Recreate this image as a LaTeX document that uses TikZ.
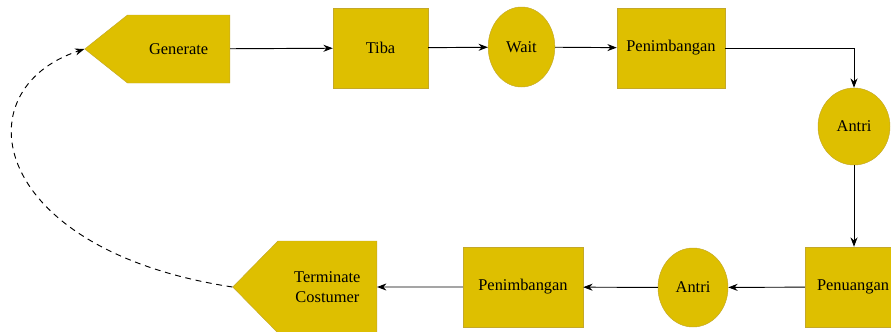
\documentclass[tikz,border=0pt]{standalone}
\usepackage{fontspec}
\setmainfont{Liberation Serif}
\usetikzlibrary{arrows.meta}
\usetikzlibrary{positioning}
\usetikzlibrary{shapes.geometric}
\usetikzlibrary{shapes.symbols}
\definecolor{myellow}{RGB}{222, 191, 0}
\definecolor{mborder}{RGB}{196, 168, 40}
\tikzset{proc/.style = {draw = mborder, fill = myellow, rectangle, minimum height = 2.4cm, font = \fontsize{14}{17}\selectfont}}
\tikzset{queue/.style = {draw = mborder, fill = myellow, ellipse, inner sep = 0, font = \fontsize{14}{17}\selectfont}}
\tikzset{gen/.style = {draw = mborder, fill = myellow, signal, signal to = west, signal from = nowhere, align = center, font = \fontsize{14}{17}\selectfont}}
\tikzset{flow/.style = {-{Stealth[length = 8pt, width = 6pt]}, line width = 0.8pt}}

\begin{document}
\begin{tikzpicture}[x = 0.03cm, y = -0.03cm]
    \useasboundingbox (0, 0) rectangle (891, 331);

    \node [gen, signal pointer angle = 77, minimum width = 4.35cm, minimum height = 2.04cm, anchor = east] (generate) at (230, 49) {Generate};
    \node [proc, minimum width = 2.85cm] (tiba) at (380.5, 48) {Tiba};
    \node [queue, minimum width = 2.0cm, minimum height = 2.4cm] (wait) at (521.5, 47) {Wait};
    \node [proc, minimum width = 3.24cm] (pen1) at (671, 48) {Penimbangan};
    \node [queue, minimum width = 2.16cm, minimum height = 2.31cm] (antri1) at (854, 126.5) {Antri};

    \node [proc, minimum width = 2.88cm] (penuangan) at (853, 287) {Penuangan};
    \node [queue, minimum width = 2.1cm, minimum height = 2.37cm] (antri2) at (693, 287.5) {Antri};
    \node [proc, minimum width = 3.6cm] (pen2) at (523, 287) {Penimbangan};
    \node [gen, signal pointer angle = 91, minimum width = 4.32cm, minimum height = 2.76cm, anchor = east] (term) at (377, 287) {Terminate\\Costumer};

    \draw [flow] (generate) -- (tiba);
    \draw [flow] (tiba) -- (wait);
    \draw [flow] (wait) -- (pen1);
    \draw [flow] (pen1.east) -| (antri1.north);
    \draw [flow] (antri1.south) -- (antri1.south |- penuangan.north);
    \draw [flow] (penuangan) -- (antri2);
    \draw [flow] (antri2) -- (pen2);
    \draw [flow] (pen2) -- (term);
    \draw [flow, dashed, dash pattern = on 5pt off 4pt] (term.west) .. controls (-10, 250) and (-40, 90) .. (generate.west);
\end{tikzpicture}
\end{document}
